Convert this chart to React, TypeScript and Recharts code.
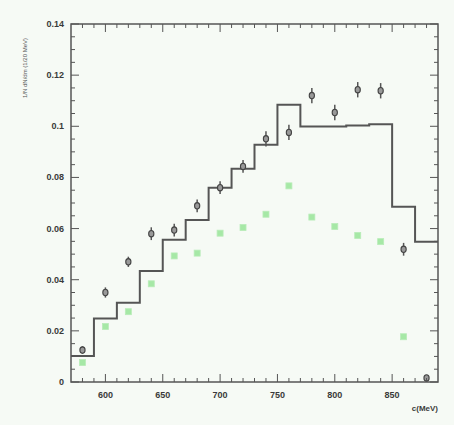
import React from 'react';
import { ComposedChart, Line, Scatter, ErrorBar, XAxis, YAxis, ReferenceArea } from 'recharts';

// ---- data ----
const binEdges = [570, 590, 610, 630, 650, 670, 690, 710, 730, 750, 770, 790, 810, 830, 850, 870];
const histEnd = 890;
const histValues = [0.0102, 0.0248, 0.031, 0.0434, 0.0556, 0.0634, 0.076, 0.0834, 0.0928, 0.1084, 0.0999, 0.0999, 0.1003, 0.1008, 0.0685, 0.0548];

const blackX = [580, 600, 620, 640, 660, 680, 700, 720, 740, 760, 780, 800, 820, 840, 860, 880];
const blackY = [0.0125, 0.035, 0.047, 0.058, 0.0594, 0.0689, 0.076, 0.0843, 0.0951, 0.0976, 0.112, 0.1054, 0.1143, 0.1139, 0.0519, 0.0016];
const blackErr = [0.0015, 0.002, 0.002, 0.0025, 0.0025, 0.0025, 0.0025, 0.0025, 0.003, 0.003, 0.003, 0.003, 0.003, 0.003, 0.0025, 0.001];

const greenX = [580, 600, 620, 640, 660, 680, 700, 720, 740, 760, 780, 800, 820, 840, 860];
const greenY = [0.0076, 0.0217, 0.0275, 0.0384, 0.0493, 0.0504, 0.0582, 0.0604, 0.0656, 0.0767, 0.0645, 0.0608, 0.0573, 0.0549, 0.0177];

const xMajor = [600, 650, 700, 750, 800, 850];
const xTicks = [580, 590, 600, 610, 620, 630, 640, 650, 660, 670, 680, 690, 700, 710, 720, 730, 740, 750, 760, 770, 780, 790, 800, 810, 820, 830, 840, 850, 860, 870, 880];
const yMajorLabels = ['0', '0.02', '0.04', '0.06', '0.08', '0.1', '0.12', '0.14'];
const yTicks = [0, 0.005, 0.01, 0.015, 0.02, 0.025, 0.03, 0.035, 0.04, 0.045, 0.05, 0.055, 0.06, 0.065, 0.07, 0.075, 0.08, 0.085, 0.09, 0.095, 0.1, 0.105, 0.11, 0.115, 0.12, 0.125, 0.13, 0.135, 0.14];

const xLabel = 'c(MeV)';
const yLabel = '1/N dN/dm (1/20 MeV)';

// ---- derived tables ----
const histData = [...binEdges.map((e, i) => ({ x: e, y: histValues[i] })), { x: histEnd, y: histValues[histValues.length - 1] }];
const blackData = blackX.map((x, i) => ({ x, y: blackY[i], err: blackErr[i] }));
const greenData = greenX.map((x, i) => ({ x, y: greenY[i] }));

// ---- layout ----
const W = 454, H = 425;
const PL = 71, PT = 24, PR = 438, PB = 382;
const AX = '#555';
const TXT = '#3a3a3a';

const XTick = (props: any) => {
  const { x, payload } = props;
  const v = payload.value;
  const major = xMajor.includes(v);
  const len = major ? 8 : 4;
  return (
    <g>
      <line x1={x} x2={x} y1={PB} y2={PB - len} stroke={AX} strokeWidth={1} />
      <line x1={x} x2={x} y1={PT} y2={PT + len} stroke={AX} strokeWidth={1} />
      {major && (
        <text x={x} y={PB + 16} textAnchor="middle" fontSize={9} fontWeight="bold" fill={TXT} fontFamily="Liberation Sans, Arial, sans-serif">
          {v}
        </text>
      )}
    </g>
  );
};

const YTick = (props: any) => {
  const { y, payload } = props;
  const v = payload.value;
  const k = Math.round(v * 1000);
  const major = k % 20 === 0;
  const len = major ? 8 : 4;
  return (
    <g>
      <line x1={PL} x2={PL + len} y1={y} y2={y} stroke={AX} strokeWidth={1} />
      <line x1={PR} x2={PR - len} y1={y} y2={y} stroke={AX} strokeWidth={1} />
      {major && (
        <text x={PL - 7} y={y + 3} textAnchor="end" fontSize={9} fontWeight="bold" fill={TXT} fontFamily="Liberation Sans, Arial, sans-serif">
          {yMajorLabels[k / 20]}
        </text>
      )}
    </g>
  );
};

const BlackDot = (props: any) => {
  const { cx, cy } = props;
  return <ellipse cx={cx} cy={cy} rx={2.6} ry={3.2} fill="#999" stroke="#444" strokeWidth={1.1} />;
};

const GreenDot = (props: any) => {
  const { cx, cy } = props;
  return <rect x={cx - 3} y={cy - 3} width={6} height={6} fill="#a6e8a6" stroke="#b8ecb8" strokeWidth={0.8} />;
};

export default function App() {
  return (
    <div style={{ position: 'absolute', left: 0, top: 0, width: W, height: H, background: '#f6faf5' }}>
      <ComposedChart width={W} height={H} margin={{ top: PT, right: W - PR, bottom: 0, left: 0 }}>
        <XAxis
          dataKey="x"
          type="number"
          domain={[570, 890]}
          ticks={xTicks}
          interval={0}
          allowDataOverflow
          height={H - PB}
          axisLine={false}
          tickLine={false}
          tick={<XTick />}
          label={(p: any) => (
            <text x={PR} y={H - 14} textAnchor="end" fontSize={8} fontWeight="bold" fill={TXT} fontFamily="Liberation Sans, Arial, sans-serif">
              {xLabel}
            </text>
          )}
        />
        <YAxis
          dataKey="y"
          type="number"
          domain={[0, 0.14]}
          ticks={yTicks}
          interval={0}
          allowDataOverflow
          width={PL}
          axisLine={false}
          tickLine={false}
          tick={<YTick />}
          label={(p: any) => (
            <text x={0} y={0} transform={`translate(27, ${PT + 44}) rotate(-90)`} textAnchor="middle" fontSize={6} fill="#555" fontFamily="Liberation Sans, Arial, sans-serif">
              {yLabel}
            </text>
          )}
        />
        <ReferenceArea x1={570} x2={890} y1={0} y2={0.14} fill="none" stroke={AX} strokeWidth={1.5} fillOpacity={0} ifOverflow="extendDomain" />
        <Scatter data={greenData} fill="#a6e8a6" shape={<GreenDot />} isAnimationActive={false} />
        <Line data={histData} dataKey="y" type="stepAfter" stroke="#555" strokeWidth={2} dot={false} activeDot={false} isAnimationActive={false} />
        <Scatter data={blackData} fill="#999" shape={<BlackDot />} isAnimationActive={false}>
          <ErrorBar dataKey="err" direction="y" width={0} stroke="#555" strokeWidth={1.5} />
        </Scatter>
      </ComposedChart>
    </div>
  );
}
